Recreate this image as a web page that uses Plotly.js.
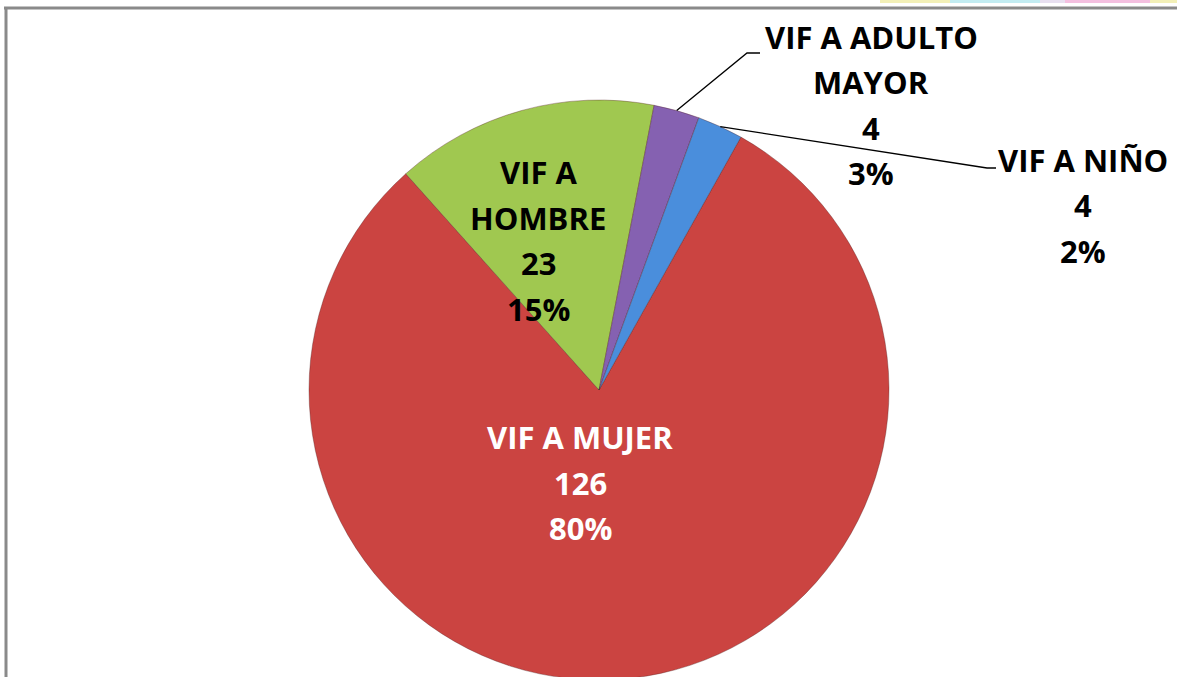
<!DOCTYPE html>
<html>
<head>
<meta charset="utf-8">
<script src="https://cdn.plot.ly/plotly-3.0.1.min.js"></script>
<style>
  html, body { margin: 0; padding: 0; overflow: hidden; background: #fff; }
  #chart { width: 1177px; height: 690px; }
</style>
</head>
<body>
<div id="chart"></div>
<script>
// data
const labels = ["VIF A MUJER", "VIF A HOMBRE", "VIF A ADULTO MAYOR", "VIF A NIÑO"];
const labelLines = [["VIF A MUJER"], ["VIF A", "HOMBRE"], ["VIF A ADULTO", "MAYOR"], ["VIF A NIÑO"]];
const values = [126, 23, 4, 4];
const percents = [80, 15, 3, 2];
const colors = ["#CB4441", "#A0C850", "#8561B1", "#4A8EDC"];

const W = 1177, H = 690;
const cx = 599, cy = 390, R = 290;
const startAngle = 29.3;

const px = x => x / W;
const py = y => 1 - y / H;

const pie = {
  type: "pie",
  labels: labels,
  values: values,
  sort: false,
  direction: "clockwise",
  rotation: startAngle,
  textinfo: "none",
  hoverinfo: "label+value",
  marker: {
    colors: colors,
    line: { color: "rgba(80,30,30,0.35)", width: 1 }
  },
  domain: { x: [px(cx - R), px(cx + R)], y: [py(cy + R), py(cy - R)] },
  showlegend: false
};

// label placement (text centres, in pixels) and text colour
const labelPos = [
  { x: 580, y: 437, color: "#ffffff" },
  { x: 538, y: 172, color: "#000000" },
  { x: 871, y: 37, color: "#000000" },
  { x: 1083, y: 160, color: "#000000" }
];
const lineGap = 45.5;

const annotations = [];
labels.forEach((lab, i) => {
  const lines = labelLines[i].concat([String(values[i]), percents[i] + "%"]);
  lines.forEach((t, k) => {
    annotations.push({
      xref: "paper", yref: "paper",
      x: px(labelPos[i].x), y: py(labelPos[i].y + k * lineGap),
      xanchor: "center", yanchor: "middle",
      text: "<b>" + t + "</b>",
      showarrow: false,
      font: { family: "'Open Sans', Lato, sans-serif", size: 31, color: labelPos[i].color }
    });
  });
});

// leader lines for the two small slices, starting at the slice mid-angle on the rim
const total = values.reduce((a, b) => a + b, 0);
function rimPoint(i) {
  let cum = 0;
  for (let k = 0; k < i; k++) cum += values[k];
  const ang = (startAngle + (cum + values[i] / 2) / total * 360) * Math.PI / 180;
  return [cx + R * Math.sin(ang), cy - R * Math.cos(ang)];
}
const elbows = { 2: [[747, 53], [760, 53]], 3: [[987, 168], [996, 168]] };

const shapes = [];
Object.keys(elbows).forEach(k => {
  const p0 = rimPoint(+k);
  const pts = [p0].concat(elbows[k]);
  const d = pts.map((p, j) => (j ? "L" : "M") + px(p[0]) + "," + py(p[1])).join(" ");
  shapes.push({ type: "path", xref: "paper", yref: "paper", path: d, line: { color: "#000", width: 1.3 } });
});

// slide frame and the pale colour strip at the top right
shapes.push({ type: "line", xref: "paper", yref: "paper", x0: px(4), x1: 1, y0: py(8), y1: py(8), line: { color: "#8a8a8a", width: 3 } });
shapes.push({ type: "line", xref: "paper", yref: "paper", x0: px(6), x1: px(6), y0: py(7), y1: 0, line: { color: "#8a8a8a", width: 3 } });
const strip = [[880, 950, "#f3f0b8"], [950, 1040, "#c3ecf2"], [1040, 1065, "#e8e0f0"], [1065, 1150, "#f4c0e0"], [1150, 1177, "#f3f0b8"]];
strip.forEach(s => shapes.push({
  type: "rect", xref: "paper", yref: "paper", x0: px(s[0]), x1: px(s[1]), y0: py(3), y1: 1,
  fillcolor: s[2], line: { width: 0 }
}));

const layout = {
  width: W,
  height: H,
  margin: { l: 0, r: 0, t: 0, b: 0 },
  paper_bgcolor: "#ffffff",
  annotations: annotations,
  shapes: shapes
};

Plotly.newPlot("chart", [pie], layout, { displayModeBar: false });
</script>
</body>
</html>
